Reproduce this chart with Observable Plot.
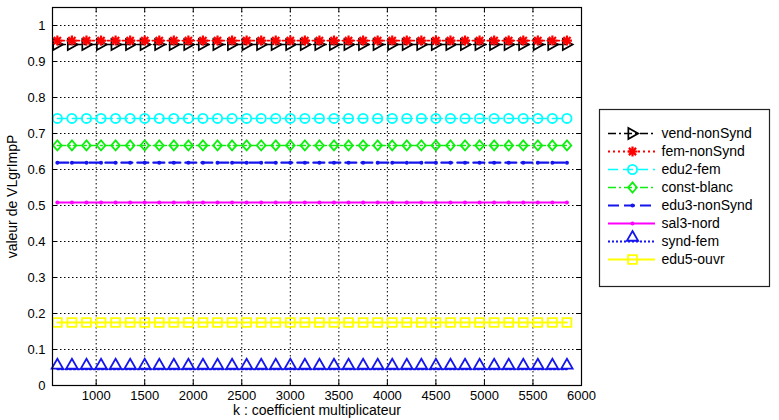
<!DOCTYPE html>
<html><head><meta charset="utf-8">
<script src="https://cdn.jsdelivr.net/npm/d3@7"></script>
<script src="https://cdn.jsdelivr.net/npm/@observablehq/plot@0.6"></script>
<style>
body{margin:0;background:#fff;}
#wrap{position:relative;width:779px;height:420px;font-family:"Liberation Sans",Arial,sans-serif;background:#fff;}
#wrap svg{position:absolute;overflow:visible;}
</style></head><body><div id="wrap"></div>
<script>
const k = [600,750,900,1050,1200,1350,1500,1650,1800,1950,2100,2250,2400,2550,2700,2850,3000,3150,3300,3450,3600,3750,3900,4050,4200,4350,4500,4650,4800,4950,5100,5250,5400,5550,5700,5850];
const seriesNames = ["vend-nonSynd","fem-nonSynd","edu2-fem","const-blanc","edu3-nonSynd","sal3-nord","synd-fem","edu5-ouvr"];
const vendNonSynd = [0.947,0.947,0.947,0.947,0.947,0.947,0.947,0.947,0.947,0.947,0.947,0.947,0.947,0.947,0.947,0.947,0.947,0.947,0.947,0.947,0.947,0.947,0.947,0.947,0.947,0.947,0.947,0.947,0.947,0.947,0.947,0.947,0.947,0.947,0.947,0.947];
const femNonSynd = [0.958,0.958,0.958,0.958,0.958,0.958,0.958,0.958,0.958,0.958,0.958,0.958,0.958,0.958,0.958,0.958,0.958,0.958,0.958,0.958,0.958,0.958,0.958,0.958,0.958,0.958,0.958,0.958,0.958,0.958,0.958,0.958,0.958,0.958,0.958,0.958];
const edu2Fem = [0.742,0.742,0.742,0.742,0.742,0.742,0.742,0.742,0.742,0.742,0.742,0.742,0.742,0.742,0.742,0.742,0.742,0.742,0.742,0.742,0.742,0.742,0.742,0.742,0.742,0.742,0.742,0.742,0.742,0.742,0.742,0.742,0.742,0.742,0.742,0.742];
const constBlanc = [0.667,0.667,0.667,0.667,0.667,0.667,0.667,0.667,0.667,0.667,0.667,0.667,0.667,0.667,0.667,0.667,0.667,0.667,0.667,0.667,0.667,0.667,0.667,0.667,0.667,0.667,0.667,0.667,0.667,0.667,0.667,0.667,0.667,0.667,0.667,0.667];
const edu3NonSynd = [0.619,0.619,0.619,0.619,0.619,0.619,0.619,0.619,0.619,0.619,0.619,0.619,0.619,0.619,0.619,0.619,0.619,0.619,0.619,0.619,0.619,0.619,0.619,0.619,0.619,0.619,0.619,0.619,0.619,0.619,0.619,0.619,0.619,0.619,0.619,0.619];
const sal3Nord = [0.508,0.508,0.508,0.508,0.508,0.508,0.508,0.508,0.508,0.508,0.508,0.508,0.508,0.508,0.508,0.508,0.508,0.508,0.508,0.508,0.508,0.508,0.508,0.508,0.508,0.508,0.508,0.508,0.508,0.508,0.508,0.508,0.508,0.508,0.508,0.508];
const syndFem = [0.045,0.045,0.045,0.045,0.045,0.045,0.045,0.045,0.045,0.045,0.045,0.045,0.045,0.045,0.045,0.045,0.045,0.045,0.045,0.045,0.045,0.045,0.045,0.045,0.045,0.045,0.045,0.045,0.045,0.045,0.045,0.045,0.045,0.045,0.045,0.045];
const edu5Ouvr = [0.175,0.175,0.175,0.175,0.175,0.175,0.175,0.175,0.175,0.175,0.175,0.175,0.175,0.175,0.175,0.175,0.175,0.175,0.175,0.175,0.175,0.175,0.175,0.175,0.175,0.175,0.175,0.175,0.175,0.175,0.175,0.175,0.175,0.175,0.175,0.175];
const xTicks = [1000,1500,2000,2500,3000,3500,4000,4500,5000,5500,6000];
const xTickLabels = ["1000","1500","2000","2500","3000","3500","4000","4500","5000","5500","6000"];
const yTicks = [0,0.1,0.2,0.3,0.4,0.5,0.6,0.7,0.8,0.9,1];
const yTickLabels = ["0","0.1","0.2","0.3","0.4","0.5","0.6","0.7","0.8","0.9","1"];
const xTitle = "k : coefficient multiplicateur";
const yTitle = "valeur de VLgrImpP";

const seriesValues = [vendNonSynd, femNonSynd, edu2Fem, constBlanc, edu3NonSynd, sal3Nord, syndFem, edu5Ouvr];

// custom symbols
const triRight = {draw(ctx, size) {const r = Math.sqrt(size / Math.PI); ctx.moveTo(r * 1.1, 0); ctx.lineTo(-r * 0.8, -r * 1.05); ctx.lineTo(-r * 0.8, r * 1.05); ctx.closePath();}};
const star4 = {draw(ctx, size) {const r = Math.sqrt(size / Math.PI); const d = r * 0.72; ctx.moveTo(-r, 0); ctx.lineTo(r, 0); ctx.moveTo(0, -r); ctx.lineTo(0, r); ctx.moveTo(-d, -d); ctx.lineTo(d, d); ctx.moveTo(-d, d); ctx.lineTo(d, -d);}};
const rhombus = {draw(ctx, size) {const r = Math.sqrt(size / Math.PI); ctx.moveTo(0, -r * 1.1); ctx.lineTo(r * 0.95, 0); ctx.lineTo(0, r * 1.1); ctx.lineTo(-r * 0.95, 0); ctx.closePath();}};

const styles = [
  {color: "#000000", dash: "8,3,2,3", lw: 1.5, symbol: triRight, r: 5.2, fill: "none", sw: 1.7, dy: 0},
  {color: "#ff0000", dash: "2,3", lw: 1.8, symbol: star4, r: 5, fill: "none", sw: 2.2, dy: 0},
  {color: "#00ffff", dash: "10,5", lw: 1.5, symbol: "circle", r: 4.6, fill: "none", sw: 1.8, dy: 0},
  {color: "#11ee11", dash: "8,3,2,3", lw: 1.5, symbol: rhombus, r: 4.6, fill: "none", sw: 1.8, dy: 0},
  {color: "#1515ee", dash: "11,5", lw: 2.2, symbol: "circle", r: 2, fill: "#1515ee", sw: 0, dy: 0},
  {color: "#ff00ff", dash: null, lw: 2, symbol: "circle", r: 2, fill: "#ff00ff", sw: 0, dy: 0},
  {color: "#1515ee", dash: "2,2", lw: 2, symbol: "triangle", r: 4.2, fill: "none", sw: 1.8, dy: -4},
  {color: "#ffff00", dash: null, lw: 2, symbol: "square", r: 5, fill: "none", sw: 1.8, dy: 0}
];

const rows = seriesNames.map((name, s) => k.map((kv, i) => ({series: name, k: kv, v: seriesValues[s][i]})));

const seriesMarks = rows.flatMap((data, s) => {
  const st = styles[s];
  return [
    Plot.line(data, {x: "k", y: "v", stroke: st.color, strokeWidth: st.lw, strokeDasharray: st.dash}),
    Plot.dot(data, {x: "k", y: "v", symbol: st.symbol, r: st.r, stroke: st.sw ? st.color : "none", fill: st.fill, strokeWidth: st.sw, dy: st.dy})
  ];
});

const gridStyle = {stroke: "#000", strokeOpacity: 1, strokeWidth: 1, strokeDasharray: "1.5,2.5"};

const main = Plot.plot({
  width: 779, height: 420,
  marginLeft: 52, marginRight: 198, marginTop: 7, marginBottom: 35,
  x: {domain: [550, 6000]},
  y: {domain: [0, 1.05]},
  style: {fontFamily: '"Liberation Sans", Arial, sans-serif', fontSize: "13px", color: "#000", background: "transparent"},
  marks: [
    Plot.gridX(xTicks, gridStyle),
    Plot.gridY(yTicks.slice(1), gridStyle),
    ...seriesMarks,
    Plot.axisX(xTicks, {anchor: "bottom", tickSize: 0, tickPadding: 5, label: null, fontSize: 13, tickFormat: d => xTickLabels[xTicks.indexOf(d)]}),
    Plot.axisY(yTicks, {anchor: "left", tickSize: 0, tickPadding: 7, label: null, fontSize: 13, tickFormat: d => yTickLabels[yTicks.indexOf(d)]}),
    Plot.ruleX(xTicks, {x: d => d, y1: 0, y2: 0.014, stroke: "#000"}),
    Plot.ruleX(xTicks, {x: d => d, y1: 1.036, y2: 1.05, stroke: "#000"}),
    Plot.ruleY(yTicks, {y: d => d, x1: 550, x2: 600, stroke: "#000"}),
    Plot.ruleY(yTicks, {y: d => d, x1: 5950, x2: 6000, stroke: "#000"}),
    Plot.frame({stroke: "#000", strokeWidth: 1.2}),
    Plot.text([xTitle], {frameAnchor: "bottom", dy: 29, fontSize: 14}),
    Plot.text([yTitle], {frameAnchor: "left", textAnchor: "middle", dx: -40, rotate: -90, fontSize: 14})
  ]
});
main.style.left = "0px"; main.style.top = "0px";
document.getElementById("wrap").appendChild(main);

// legend
const legendRows = seriesNames.map((name, i) => ({name, i}));
const legendMarks = [];
seriesNames.forEach((name, i) => {
  const st = styles[i];
  legendMarks.push(Plot.ruleY([name], {y: d => d, x1: 9, x2: 56, stroke: st.color, strokeWidth: st.lw, strokeDasharray: st.dash}));
  legendMarks.push(Plot.dot([name], {x: () => 33, y: d => d, symbol: st.symbol, r: st.r, stroke: st.sw ? st.color : "none", fill: st.fill, strokeWidth: st.sw, dy: st.dy}));
});
const legend = Plot.plot({
  width: 170, height: 177,
  margin: 0,
  x: {domain: [0, 170], range: [0, 170], axis: null},
  y: {type: "point", domain: seriesNames, range: [12, 161], axis: null},
  style: {fontFamily: '"Liberation Sans", Arial, sans-serif', fontSize: "14px", color: "#000", background: "#fff"},
  marks: [
    ...legendMarks,
    Plot.text(legendRows, {x: () => 62, y: "name", text: "name", textAnchor: "start", fontSize: 14}),
    Plot.frame({stroke: "#222", strokeWidth: 1.2})
  ]
});
legend.style.left = "599px"; legend.style.top = "109px";
document.getElementById("wrap").appendChild(legend);
</script></body></html>
